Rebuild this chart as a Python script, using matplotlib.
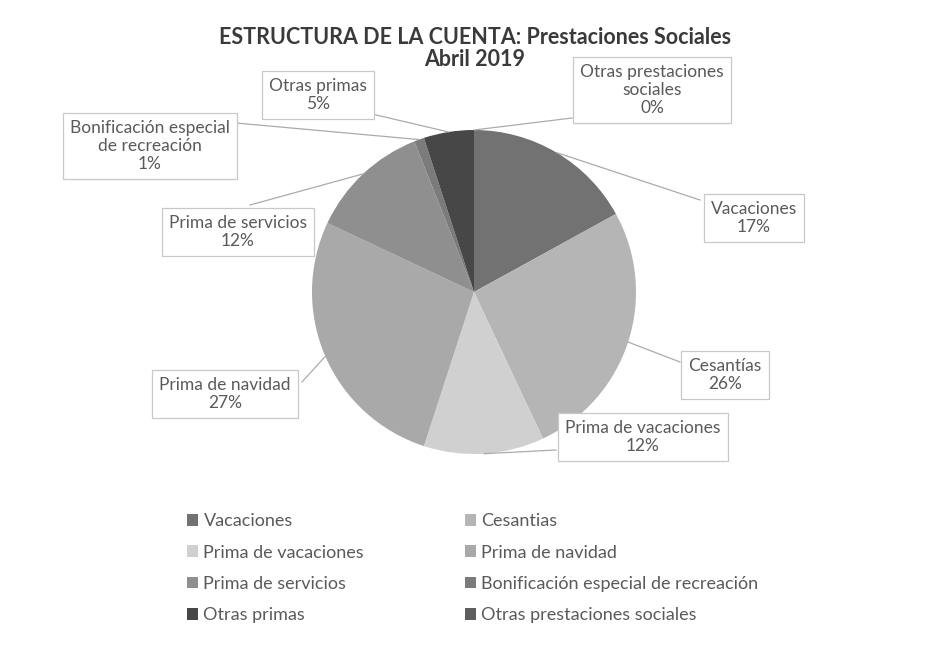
import numpy as np
import matplotlib.pyplot as plt
from matplotlib.patches import Patch

plt.rcParams['font.family'] = ['Lato', 'DejaVu Sans']

categories = ["Vacaciones", "Cesantías", "Prima de vacaciones", "Prima de navidad",
              "Prima de servicios", "Bonificación especial de recreación",
              "Otras primas", "Otras prestaciones sociales"]
shares = [17, 26, 12, 27, 12, 1, 5, 0]
box_labels = ["Vacaciones", "Cesantías", "Prima de vacaciones", "Prima de navidad",
              "Prima de servicios", "Bonificación especial\nde recreación",
              "Otras primas", "Otras prestaciones\nsociales"]
legend_labels = ["Vacaciones", "Cesantias", "Prima de vacaciones", "Prima de navidad",
                 "Prima de servicios", "Bonificación especial de recreación",
                 "Otras primas", "Otras prestaciones sociales"]
colors = ["#727272", "#b5b5b5", "#d0d0d0", "#a9a9a9",
          "#8f8f8f", "#7b7b7b", "#474747", "#5e5e5e"]

W, H = 927, 647
fig = plt.figure(figsize=(W / 100, H / 100), dpi=100)
ax = fig.add_axes([0, 0, 1, 1])


def py(y):
    # pixel row (from top) -> axes y
    return H - y


cx, cy, R = 474, 292, 162
wedges, _ = ax.pie(shares, colors=colors, startangle=90, counterclock=False,
                   center=(cx, py(cy)), radius=R, frame=True,
                   wedgeprops=dict(linewidth=0))
ax.set_xlim(0, W)
ax.set_ylim(0, H)
ax.set_aspect('equal')
ax.axis('off')

# label box centres and where each leader line meets its box
box_pos = [(754, 218), (725, 375), (643, 437), (225, 394),
           (238, 232), (150, 146), (318, 95), (652, 90)]
line_end = [(700, 200), (680, 362), (556, 450), (302, 382),
            (250, 205), (225, 122), (372, 114), (572, 118)]

for w, lab, s, (bx, by), (lx, ly) in zip(wedges, box_labels, shares, box_pos, line_end):
    mid = np.deg2rad((w.theta1 + w.theta2) / 2)
    px = cx + R * np.cos(mid)
    pyy = py(cy) + R * np.sin(mid)
    ax.plot([px, lx], [pyy, py(ly)], color="#ababab", lw=0.9)
    ax.text(bx, py(by), f"{lab}\n{s}%", ha='center', va='center', fontsize=12.5,
            color="#5a5a5a", linespacing=1.15,
            bbox=dict(boxstyle='square,pad=0.42', fc='white', ec='#c8c8c8', lw=0.9))

ax.text(475, py(38), "ESTRUCTURA DE LA CUENTA: Prestaciones Sociales", ha='center',
        va='center', fontsize=15.5, fontweight='bold', color="#3a3a3a")
ax.text(475, py(60), "Abril 2019", ha='center', va='center', fontsize=15.5,
        fontweight='bold', color="#3a3a3a")

# legend filled row by row
handles = [Patch(facecolor=c, edgecolor='none') for c in colors]
order = [0, 2, 4, 6, 1, 3, 5, 7]
ax.legend([handles[i] for i in order], [legend_labels[i] for i in order],
          ncol=2, loc='upper left', bbox_to_anchor=(180 / W, 1 - 506 / H),
          frameon=False, prop=dict(size=13), labelcolor="#5a5a5a",
          handlelength=0.6, handleheight=0.6, handletextpad=0.3,
          columnspacing=5.6, labelspacing=0.85, borderaxespad=0)

fig.savefig("out.png", dpi=100, facecolor='white')
